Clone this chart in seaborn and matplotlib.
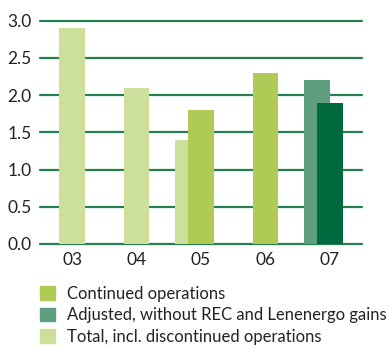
import matplotlib
matplotlib.use('Agg')
import matplotlib.pyplot as plt
from matplotlib.patches import Patch
import numpy as np
import pandas as pd
import seaborn as sns

years = ['03', '04', '05', '06', '07']

# bars centred on the year
front_values = [2.9, 2.1, 1.8, 2.3, 1.9]
front_series = ['total', 'total', 'continued', 'continued', 'continued07']

# bars set half a bar to the left, behind the front ones
back_values = [np.nan, np.nan, 1.4, np.nan, 2.2]
back_series = ['total', 'total', 'total', 'total', 'adjusted']

legend_labels = ['Continued operations',
                 'Adjusted, without REC and Lenenergo gains',
                 'Total, incl. discontinued operations']

colors = {'continued': '#afca55', 'adjusted': '#5f9f80',
          'total': '#cde09b', 'continued07': '#006a3e'}
grid_color = '#24804f'

sns.set_style('white')
plt.rcParams['font.family'] = ['Lato', 'DejaVu Sans']

fig = plt.figure(figsize=(3.9, 3.47), dpi=100)
ax = fig.add_axes([40 / 390, 1 - 244 / 347, 322 / 390, (244 - 20.7) / 347])

width = 0.4

back = pd.DataFrame({'year': years, 'value': back_values, 'series': back_series})
sns.barplot(data=back, x='year', y='value', hue='series', palette=colors,
            order=years, dodge=False, width=width, legend=False, ax=ax,
            saturation=1, zorder=2, linewidth=0)
for p in ax.patches:
    p.set_x(p.get_x() - width / 2)

front = pd.DataFrame({'year': years, 'value': front_values, 'series': front_series})
sns.barplot(data=front, x='year', y='value', hue='series', palette=colors,
            order=years, dodge=False, width=width, legend=False, ax=ax,
            saturation=1, zorder=3, linewidth=0)

for t in [0, 0.5, 1.0, 1.5, 2.0, 2.5, 3.0]:
    ax.axhline(t, color=grid_color, lw=1.6, zorder=1, clip_on=False)

ax.set_xlim(-0.5, 4.5)
ax.set_ylim(0, 3.0)
ax.set_yticks([0, 0.5, 1.0, 1.5, 2.0, 2.5, 3.0])
ax.set_yticklabels(['0.0', '0.5', '1.0', '1.5', '2.0', '2.5', '3.0'])
ax.set_xlabel('')
ax.set_ylabel('')
ax.tick_params(axis='both', length=0, labelsize=12.5, colors='#222222')
ax.tick_params(axis='y', pad=6)
ax.tick_params(axis='x', pad=6)
for s in ax.spines.values():
    s.set_visible(False)

handles = [Patch(color=colors['continued']), Patch(color=colors['adjusted']),
           Patch(color=colors['total'])]
fig.legend(handles, legend_labels, loc='upper left',
           bbox_to_anchor=(33 / 390, 1 - 279 / 347), frameon=False,
           fontsize=12, handlelength=0.9, handleheight=0.9,
           handletextpad=0.75, labelspacing=0.33, borderaxespad=0,
           labelcolor='#222222')

fig.savefig('out.png', dpi=100)
plt.close(fig)
